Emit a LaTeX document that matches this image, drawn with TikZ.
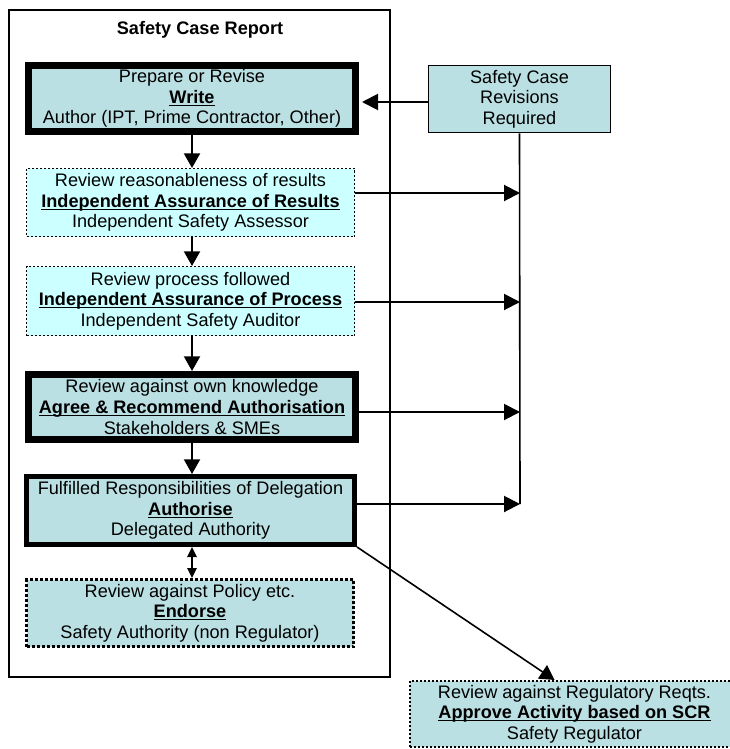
\documentclass[tikz,border=0pt]{standalone}
\usepackage{fontspec}
\setmainfont{Liberation Sans}
\usetikzlibrary{arrows.meta,calc}
\definecolor{boxteal}{RGB}{187,224,227}
\definecolor{boxcyan}{RGB}{204,255,255}
\newcommand\headul[1]{\underline{\smash{\textbf{#1}}}}
\begin{document}
\begin{tikzpicture}[x=0.75pt,y=-0.75pt,
  every node/.style={font=\fontsize{13.6}{15.4}\selectfont, align=center, inner sep=0pt},
  stage/.style={draw=black, rectangle, minimum width=#1*0.75pt},
  heavybox/.style={fill=boxteal, line width=5.25pt},
  midbox/.style={fill=boxteal, line width=3.75pt},
  dotcyan/.style={fill=boxcyan, line width=0.75pt, dash pattern=on 1.5pt off 1.5pt},
  dotteal/.style={fill=boxteal, line width=2.25pt, dash pattern=on 2.25pt off 1.5pt},
  dotreg/.style={fill=boxteal, line width=1.5pt, dash pattern=on 1.5pt off 1.5pt},
  flow/.style={line width=1.5pt, -{Triangle[length=11pt,width=12pt]}},
  feed/.style={line width=1.5pt, -{Triangle[length=12pt,width=12pt]}},
  twoway/.style={line width=1.2pt, {Triangle[length=7.5pt,width=7pt]}-{Triangle[length=7.5pt,width=7pt]}},
]
\useasboundingbox (0,0) rectangle (730,749);
\clip (0,0) rectangle (730,749);

% outer frame
\node[draw=black, line width=1.5pt, minimum width=381*0.75pt, minimum height=667*0.75pt] (frame) at (199.5,343.5) {};
\node[font=\fontsize{13.6}{15.4}\selectfont\bfseries] (title) at (200,30) {Safety Case Report};

\node[stage=327, heavybox, minimum height=66*0.75pt] (write) at (192,98.5)
  {Prepare or Revise\\\headul{Write}\\Author (IPT, Prime Contractor, Other)};
\node[stage=328, dotcyan, minimum height=68*0.75pt] (res) at (190.5,202.5)
  {Review reasonableness of results\\\headul{Independent Assurance of Results}\\Independent Safety Assessor};
\node[stage=328, dotcyan, minimum height=69*0.75pt] (proc) at (190.5,301)
  {Review process followed\\\headul{Independent Assurance of Process}\\Independent Safety Auditor};
\node[stage=327, heavybox, minimum height=65*0.75pt] (agree) at (192,407)
  {Review against own knowledge\\\headul{Agree \& Recommend Authorisation}\\Stakeholders \& SMEs};
\node[stage=328, midbox, minimum height=68*0.75pt] (auth) at (190.5,510.5)
  {Fulfilled Responsibilities of Delegation\\\headul{Authorise}\\Delegated Authority};
\node[stage=327, dotteal, minimum height=67*0.75pt] (endorse) at (190,613)
  {Review against Policy etc.\\\headul{Endorse}\\Safety Authority (non Regulator)};
\node[stage=329, dotreg, minimum height=66*0.75pt] (reg) at (574.5,714)
  {Review against Regulatory Reqts.\\\headul{Approve Activity based on SCR}\\Safety Regulator};
\node[stage=182, fill=boxteal, line width=1.2pt, minimum height=67*0.75pt] (rev) at (519.5,99)
  {Safety Case\\Revisions\\Required};

% bus coordinates
\coordinate (b1) at (520,193);
\coordinate (b2) at (520,302);
\coordinate (b3) at (520,412);
\coordinate (b4) at (520,504);
\coordinate (rt) at ($(reg.north west)!0.44!(reg.north east)$);

% main flow
\draw[flow] (write.south) -- (write.south |- res.north);
\draw[flow] (write.south |- res.south) -- (write.south |- proc.north);
\draw[flow] (write.south |- proc.south) -- (write.south |- agree.north);
\draw[flow] (agree.south) -- (agree.south |- auth.north);
\draw[twoway] (agree.south |- auth.south) -- (agree.south |- endorse.north);

% revisions loop
\draw[line width=1.2pt] (rev.south) -- (b4);
\draw[feed] (res.east |- b1) -- (b1);
\draw[feed] (proc.east |- b2) -- (b2);
\draw[feed] (agree.east |- b3) -- (b3);
\draw[feed] (auth.east |- b4) -- (b4);
\draw[feed] ($(rev.west)+(0,3)$) -- ($(write.east |- rev.west)+(3,3)$);

% to regulator
\draw[line width=1.2pt, -{Triangle[length=11pt,width=12pt]}] (auth.south east) -- (rt);
\end{tikzpicture}
\end{document}
